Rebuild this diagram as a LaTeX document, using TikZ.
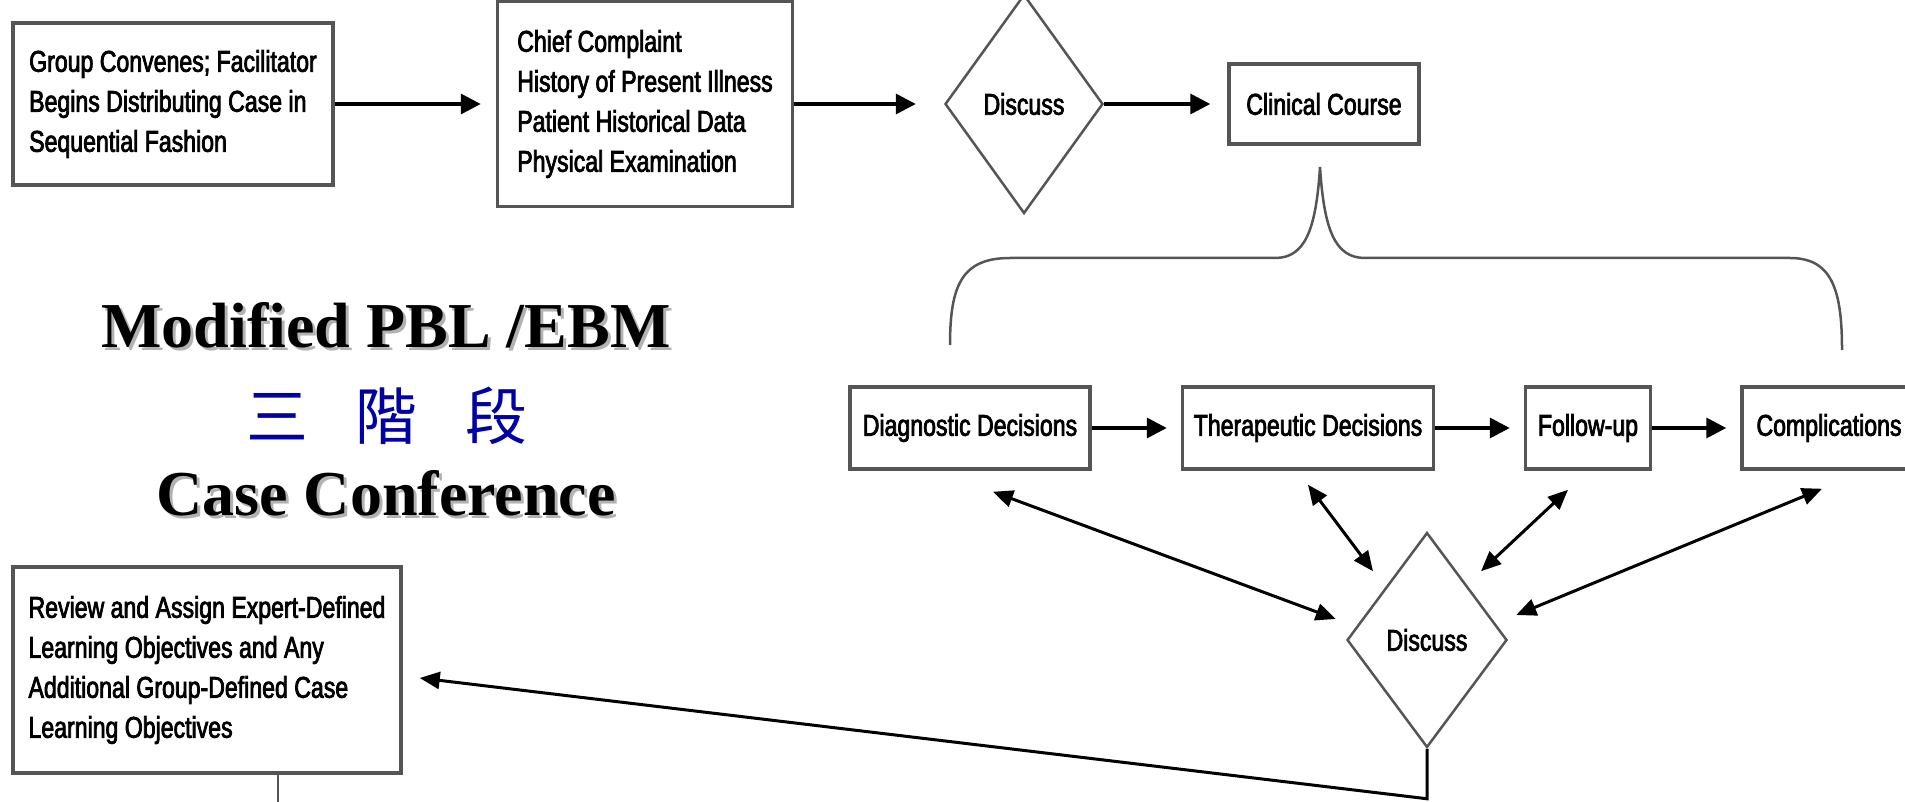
\documentclass[tikz,border=0pt]{standalone}
\usepackage{fontspec}
\usetikzlibrary{shapes.geometric,arrows.meta}
\newfontfamily\boxfont[FakeStretch=0.77,FakeBold=2.5]{Liberation Sans}
\newfontfamily\headfont{Liberation Serif}
\newfontfamily\cjkfont{Noto Sans CJK TC}
\definecolor{boxgray}{RGB}{85,85,85}
\definecolor{stageblue}{RGB}{0,0,165}
\tikzset{
  stagebox/.style={draw=boxgray, line width=3.5pt, fill=white, align=left, inner sep=0pt,
    font=\boxfont\fontsize{30}{40}\selectfont},
  talk/.style={diamond, draw=boxgray, line width=2.5pt, inner sep=0pt, aspect=0.72,
    font=\boxfont\fontsize{30}{40}\selectfont},
  flow/.style={-{Triangle[length=20pt,width=20pt]}, line width=3.5pt, shorten >=14pt},
  twoway/.style={{Triangle[length=20pt,width=17pt]}-{Triangle[length=20pt,width=17pt]}, line width=3pt},
  heading/.style={font=\headfont\bfseries\fontsize{64}{64}\selectfont, inner sep=0pt, anchor=base},
  headshade/.style={heading, text=black!30}
}
\begin{document}
\begin{tikzpicture}[x=1pt, y=-1pt]
    \useasboundingbox (0,0) rectangle (1905,802);
    \clip (0,0) rectangle (1905,802);
    \node [stagebox, minimum width=320pt, minimum height=162pt] (convene) at (173,104) {Group Convenes; Facilitator\\Begins Distributing Case in\\Sequential Fashion};
    \node [stagebox, minimum width=295pt, minimum height=205pt] (history) at (645,104) {Chief Complaint\\History of Present Illness\\Patient Historical Data\\Physical Examination};
    \node [talk, minimum width=158pt, minimum height=219pt] (discussA) at (1024,104) {Discuss};
    \node [stagebox, minimum width=190pt, minimum height=80pt] (clinical) at (1324,104) {Clinical Course};
    \node [stagebox, minimum width=240pt, minimum height=82pt] (diagnostic) at (970,428) {Diagnostic Decisions};
    \node [stagebox, minimum width=251pt, minimum height=82pt] (therapeutic) at (1308,428) {Therapeutic Decisions};
    \node [stagebox, minimum width=125pt, minimum height=82pt] (followup) at (1588,428) {Follow-up};
    \node [stagebox, minimum width=174pt, minimum height=82pt] (complications) at (1829,428) {Complications};
    \node [talk, minimum width=160pt, minimum height=215pt] (discussB) at (1427,640) {Discuss};
    \node [stagebox, minimum width=388pt, minimum height=206pt] (review) at (207,670) {Review and Assign Expert-Defined\\Learning Objectives and Any\\Additional Group-Defined Case\\Learning Objectives};
    \node [headshade] (pblshade) at (389,350) {Modified PBL /EBM};
    \node [heading] (pbl) at (386,347) {Modified PBL /EBM};
    \node [text=stageblue, font=\cjkfont\fontsize{62}{62}\selectfont, inner sep=0pt] (stages) at (387,416) {三\hspace{48pt}階\hspace{48pt}段};
    \node [headshade] (confshade) at (389,518) {Case Conference};
    \node [heading] (conf) at (386,515) {Case Conference};
    \draw [boxgray, line width=2.5pt] (950,345) .. controls (950,285) and (962,258) .. (1010,258) -- (1275,258) .. controls (1305,258) and (1316,230) .. (1320,167) .. controls (1324,230) and (1335,258) .. (1365,258) -- (1790,258) .. controls (1832,258) and (1842,290) .. (1842,350);
    \draw [flow, shorten >=15pt] (convene.east) -- (history.west);
    \draw [flow, shorten >=28pt] (history.east) -- (discussA.west);
    \draw [flow, shorten >=17pt] (discussA.east) -- (clinical.west);
    \draw [flow] (diagnostic) -- (therapeutic);
    \draw [flow] (therapeutic) -- (followup);
    \draw [flow] (followup) -- (complications);
    \draw [twoway] ([shift={(23,21)}]diagnostic.south) -- ([shift={(-10,-21)}]discussB.west);
    \draw [twoway] ([shift={(0,14)}]therapeutic.south) -- ([shift={(-54,40)}]discussB.north);
    \draw [twoway] ([shift={(-20,19)}]followup.south) -- ([shift={(54,40)}]discussB.north);
    \draw [twoway] ([shift={(-7,18)}]complications.south) -- ([shift={(8,-25)}]discussB.east);
    \draw [line width=3pt, -{Triangle[length=20pt,width=17pt]}] (discussB.south) -- ++(0,50) -- ([shift={(17,8)}]review.east);
    \coordinate (exit) at (278,820);
    \draw [boxgray, line width=2.5pt] (review.south -| exit) -- (exit);
  \end{tikzpicture}
\end{document}
